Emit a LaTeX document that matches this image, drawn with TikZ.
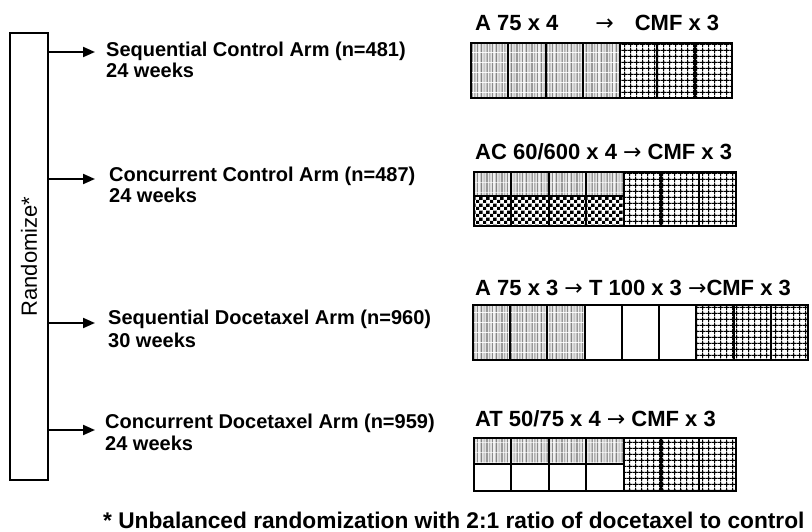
\documentclass[tikz,border=0pt]{standalone}
\usepackage{fontspec}
\setmainfont{Liberation Sans}
\newfontfamily\arrowfont{DejaVu Sans}
\usetikzlibrary{patterns.meta,arrows.meta}

\tikzdeclarepattern{
  name=astripes, type=colored,
  bottom left={(0pt,0pt)}, top right={(15pt,10pt)}, tile size={(15pt,10pt)},
  code={
    \fill[black!6] (0pt,0pt) rectangle (15pt,10pt);
    \fill[black!48] (0.6pt,0pt) rectangle (2.2pt,10pt);
    \fill[black!22] (3.6pt,0pt) rectangle (5.6pt,10pt);
    \fill[black!58] (6.8pt,0pt) rectangle (8.0pt,10pt);
    \fill[black!30] (9.4pt,0pt) rectangle (11.0pt,10pt);
    \fill[black!45] (12.4pt,0pt) rectangle (13.6pt,10pt);
  }
}
\tikzdeclarepattern{
  name=cmfgrid, type=colored,
  bottom left={(0pt,0pt)}, top right={(5.6pt,5.6pt)}, tile size={(5.6pt,5.6pt)},
  code={
    \fill[white] (0pt,0pt) rectangle (5.6pt,5.6pt);
    \fill[black] (0pt,2.35pt) rectangle (5.6pt,3.25pt);
    \fill[black] (2.35pt,0pt) rectangle (3.25pt,5.6pt);
    \fill[black] (2.8pt,2.8pt) circle (1.5pt);
  }
}
\tikzdeclarepattern{
  name=cchecker, type=colored,
  bottom left={(0pt,0pt)}, top right={(7pt,7pt)}, tile size={(7pt,7pt)},
  code={
    \fill[white] (0pt,0pt) rectangle (7pt,7pt);
    \fill[black] (0pt,0pt) rectangle (3.5pt,3.5pt);
    \fill[black] (3.5pt,3.5pt) rectangle (7pt,7pt);
  }
}

\newcommand\rarr{{\mdseries\arrowfont →}}

\tikzset{
  armtxt/.style={anchor=base west, inner sep=0pt, font=\bfseries\fontsize{20}{22}\selectfont},
  lbltxt/.style={anchor=base west, inner sep=0pt, font=\bfseries\fontsize{22}{24}\selectfont},
  arr/.style={line width=2pt, -{Triangle[length=12pt,width=10pt]}},
  cellbox/.style={line width=2pt, draw=black},
  outerbox/.style={line width=2.6pt, draw=black},
}

\begin{document}
\begin{tikzpicture}[x=1pt,y=-1pt]
\useasboundingbox[fill=white] (0,0) rectangle (812,532);

% randomize box
\node[draw, line width=1.6pt, rotate=90, minimum width=447pt, minimum height=38pt,
      inner sep=0pt, font=\fontsize{22}{24}\selectfont] (rand) at (29,256.5) {Randomize*};

% arms
\node[armtxt] (a1) at (106,56.7) {Sequential Control Arm (n=481)};
\node[armtxt] (w1) at (106,78) {24 weeks};
\node[armtxt] (a2) at (109,182) {Concurrent Control Arm (n=487)};
\node[armtxt] (w2) at (109,203) {24 weeks};
\node[armtxt] (a3) at (108,324) {Sequential Docetaxel Arm (n=960)};
\node[armtxt] (w3) at (108,347) {30 weeks};
\node[armtxt] (a4) at (105,428) {Concurrent Docetaxel Arm (n=959)};
\node[armtxt] (w4) at (105,450) {24 weeks};

\coordinate (t1) at (95,52);
\coordinate (t2) at (95,179);
\coordinate (t3) at (95,323);
\coordinate (t4) at (95,430);
\draw[arr] (rand.south |- t1) -- (t1);
\draw[arr] (rand.south |- t2) -- (t2);
\draw[arr] (rand.south |- t3) -- (t3);
\draw[arr] (rand.south |- t4) -- (t4);

% labels
\node[lbltxt] (l1) at (475,30.7) {A 75 x 4\hspace{37pt}\rarr\hspace{21pt}CMF x 3};
\node[lbltxt] (l2) at (475,160) {AC 60/600 x 4 \rarr\ CMF x 3};
\node[lbltxt] (l3) at (475,295) {A 75 x 3 \rarr\ T 100 x 3 \rarr CMF x 3};
\node[lbltxt] (l4) at (475,426) {AT 50/75 x 4 \rarr\ CMF x 3};

% bar 1
\foreach \i in {0,...,3} \draw[cellbox, pattern=astripes] ({471+\i*37.286},43) rectangle ++(37.286,55);
\foreach \i in {4,...,6} \draw[cellbox, pattern=cmfgrid] ({471+\i*37.286},43) rectangle ++(37.286,55);
\draw[outerbox] (471,43) rectangle (732,98);

% bar 2
\foreach \i in {0,...,3} {
  \draw[cellbox, pattern=astripes] ({474+\i*37.43},172) rectangle ++(37.43,24);
  \draw[cellbox, pattern=cchecker] ({474+\i*37.43},196) rectangle ++(37.43,30);
}
\foreach \i in {4,...,6} \draw[cellbox, pattern=cmfgrid] ({474+\i*37.43},172) rectangle ++(37.43,54);
\draw[outerbox] (474,172) rectangle (736,226);

% bar 3
\foreach \i in {0,...,2} \draw[cellbox, pattern=astripes] ({473+\i*37.22},305) rectangle ++(37.22,55);
\foreach \i in {3,...,5} \draw[cellbox, fill=white] ({473+\i*37.22},305) rectangle ++(37.22,55);
\foreach \i in {6,...,8} \draw[cellbox, pattern=cmfgrid] ({473+\i*37.22},305) rectangle ++(37.22,55);
\draw[outerbox] (473,305) rectangle (808,360);

% bar 4
\foreach \i in {0,...,3} {
  \draw[cellbox, pattern=astripes] ({474+\i*37.43},438) rectangle ++(37.43,26);
  \draw[cellbox, fill=white] ({474+\i*37.43},464) rectangle ++(37.43,27);
}
\foreach \i in {4,...,6} \draw[cellbox, pattern=cmfgrid] ({474+\i*37.43},438) rectangle ++(37.43,53);
\draw[outerbox] (474,438) rectangle (736,491);

% footnote
\node[anchor=base west, inner sep=0pt, font=\bfseries\fontsize{22.7}{25}\selectfont] (fn) at (103,528)
  {* Unbalanced randomization with 2:1 ratio of docetaxel to control};
\end{tikzpicture}
\end{document}
